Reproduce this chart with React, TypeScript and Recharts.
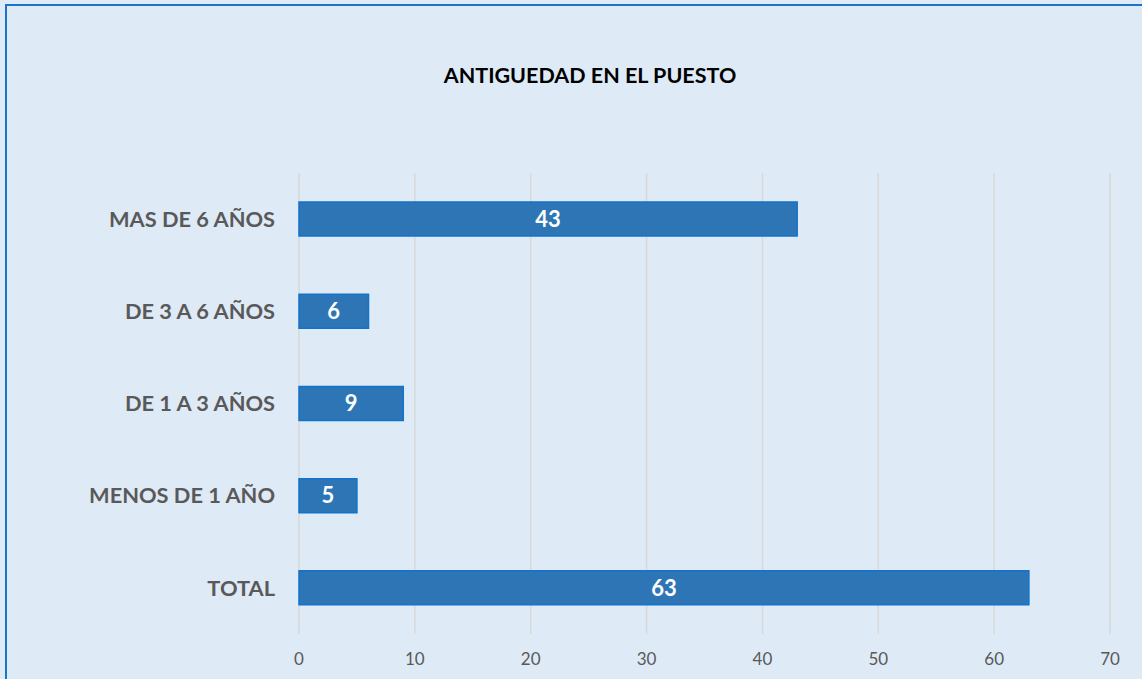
import React from "react";
import {
  Bar,
  BarChart,
  CartesianGrid,
  LabelList,
  XAxis,
  YAxis,
} from "recharts";

const CATEGORIES = [
  "MAS DE 6 AÑOS",
  "DE 3 A 6 AÑOS",
  "DE 1 A 3 AÑOS",
  "MENOS DE 1 AÑO",
  "TOTAL",
];

const VALUES = [43, 6, 9, 5, 63];

const X_TICKS = [0, 10, 20, 30, 40, 50, 60, 70];

const TITLE = "ANTIGUEDAD EN EL PUESTO";

const data = CATEGORIES.map((name, i) => ({ name, value: VALUES[i] }));

const FONT = "Lato, 'Open Sans', sans-serif";

export default function App() {
  return (
    <div
      style={{
        position: "fixed",
        left: 0,
        top: 0,
        width: 1142,
        height: 679,
        background: "#DEEAF6",
        overflow: "hidden",
        fontFamily: FONT,
      }}
    >
      <div
        style={{
          position: "absolute",
          left: 5,
          top: 4,
          width: 1142,
          height: 679,
          borderLeft: "2px solid #1A75C9",
          borderTop: "2px solid #1A75C9",
        }}
      />
      <div
        style={{
          position: "absolute",
          left: 0,
          top: 61,
          width: 1180,
          textAlign: "center",
          fontSize: 21.5,
          lineHeight: "28px",
          fontWeight: 700,
          color: "#000",
        }}
      >
        {TITLE}
      </div>
      <div style={{ position: "absolute", left: 0, top: 0 }}>
        <BarChart
          width={1142}
          height={679}
          data={data}
          layout="vertical"
          margin={{ top: 173, right: 32, bottom: 0, left: 0 }}
          barCategoryGap="31.5%"
        >
          <CartesianGrid
            horizontal={false}
            stroke="#D9D9D9"
            strokeWidth={1.5}
          />
          <XAxis
            type="number"
            domain={[0, 70]}
            ticks={X_TICKS}
            height={45}
            axisLine={false}
            tickLine={false}
            tickSize={0}
            tickMargin={19}
            tick={{ fill: "#595959", fontSize: 17, fontFamily: FONT }}
          />
          <YAxis
            type="category"
            dataKey="name"
            width={299}
            axisLine={false}
            tickLine={false}
            tickSize={0}
            tickMargin={24}
            tick={{
              fill: "#595959",
              fontSize: 21.8,
              fontWeight: 700,
              fontFamily: FONT,
            }}
          />
          <Bar
            dataKey="value"
            fill="#2E75B6"
            stroke="#1273CC"
            strokeWidth={1.5}
            isAnimationActive={false}
          >
            <LabelList
              dataKey="value"
              position="center"
              fill="#FFFFFF"
              style={{ fontSize: 22, fontWeight: 700, fontFamily: FONT }}
            />
          </Bar>
        </BarChart>
      </div>
    </div>
  );
}
